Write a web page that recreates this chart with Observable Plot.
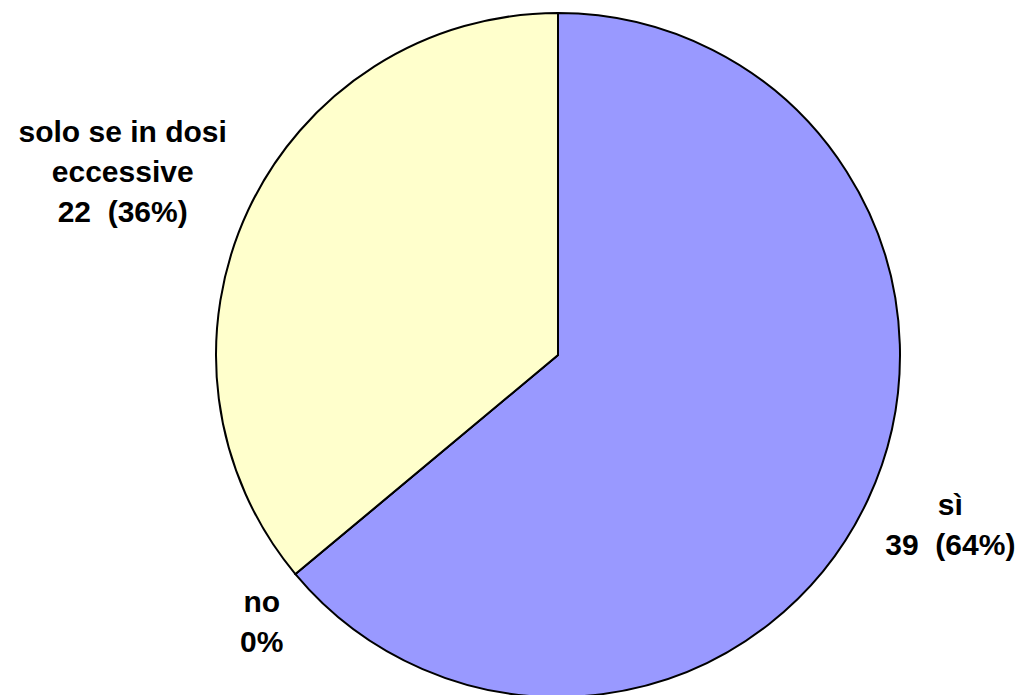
<!DOCTYPE html>
<html>
<head>
<meta charset="utf-8">
<script src="https://cdn.jsdelivr.net/npm/d3@7"></script>
<script src="https://cdn.jsdelivr.net/npm/@observablehq/plot@0.6"></script>
<style>
  html, body { margin: 0; padding: 0; background: #fff; }
  #chart svg { display: block; }
</style>
</head>
<body>
<div id="chart"></div>
<script>
// Data
const categories = ["sì", "no", "solo se in dosi eccessive"];
const counts = [39, 0, 22];
const labelTexts = ["sì", "no", "solo se in dosi\neccessive"];
const colors = ["#9999FF", "#993366", "#FFFFCC"];

const total = d3.sum(counts);
const arcs = d3.pie().sort(null).value(d => d)(counts);
const slices = categories.map((c, i) => ({
  category: c,
  count: counts[i],
  pct: Math.round(100 * counts[i] / total),
  start: arcs[i].startAngle,
  end: arcs[i].endAngle,
  mid: (arcs[i].startAngle + arcs[i].endAngle) / 2,
  color: colors[i],
  text: labelTexts[i]
}));
slices.forEach(s => {
  s.label = s.count === 0
    ? `${s.text}\n${s.pct}%`
    : `${s.text}\n${s.count}\u00a0 (${s.pct}%)`;
});

// label placement factors (radial distance along the mid-angle, per slice)
const place = {
  "sì": [1.265, 1.148],
  "no": [1.13, 1.205],
  "solo se in dosi eccessive": [1.407, 1.287]
};
slices.forEach(s => {
  const [kx, ky] = place[s.category];
  s.lx = Math.sin(s.mid) * kx;
  s.ly = Math.cos(s.mid) * ky;
});

const W = 1025, H = 695;
const R = 342, CX = 558, CY = 355;

function pieMark(index, scales) {
  const x0 = scales.x(0), y0 = scales.y(0);
  const r = scales.x(1) - scales.x(0);
  const arc = d3.arc().innerRadius(0).outerRadius(r);
  const g = d3.create("svg:g").attr("transform", `translate(${x0},${y0})`);
  g.selectAll("path")
    .data(slices)
    .join("path")
    .attr("d", d => arc({startAngle: d.start, endAngle: d.end}))
    .attr("fill", d => d.color)
    .attr("stroke", "#000")
    .attr("stroke-width", 2)
    .attr("stroke-linejoin", "round");
  return g.node();
}

const chart = Plot.plot({
  width: W,
  height: H,
  margin: 0,
  x: {domain: [-CX / R, (W - CX) / R], range: [0, W], axis: null},
  y: {domain: [-(H - CY) / R, CY / R], range: [H, 0], axis: null},
  style: {fontFamily: "'Liberation Sans', Arial, sans-serif", background: "#fff"},
  marks: [
    pieMark,
    Plot.text(slices, {
      x: "lx",
      y: "ly",
      text: "label",
      fontSize: 30,
      fontWeight: "bold",
      fill: "#000",
      lineHeight: 1.33,
      lineAnchor: "middle",
      textAnchor: "middle"
    })
  ]
});
document.getElementById("chart").appendChild(chart);
</script>
</body>
</html>
